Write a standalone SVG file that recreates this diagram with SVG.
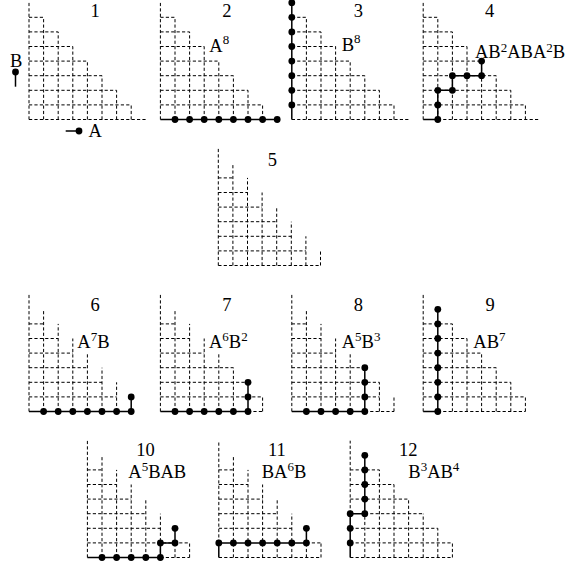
<svg xmlns="http://www.w3.org/2000/svg" xmlns:xlink="http://www.w3.org/1999/xlink" width="573" height="565" viewBox="0 0 573 565">
<defs>
<circle id="dot" r="3.4"/>
</defs>
<style>
.g{fill:none;stroke:#000;stroke-width:1;stroke-dasharray:3.2 2.2}
.p{fill:none;stroke:#000;stroke-width:1.5}
.dots use{fill:#000}
text{font-family:"Liberation Serif","Times New Roman",serif;font-size:18.5px;fill:#000}
.n{text-anchor:middle}
.s{font-size:13px}
</style>
<rect width="573" height="565" fill="#fff"/>

<!-- Panel 1 -->
<g id="panel1" transform="translate(29,119.5)">
<path class="g" d="M0 0V-116.8M0 0H116.8M0 -14.6H102.2M0 -29.2H87.6M0 -43.8H73M0 -58.4H58.4M0 -73H43.8M0 -87.6H29.2M0 -102.2H14.6M14.6 0V-102.2M29.2 0V-87.6M43.8 0V-73M58.4 0V-58.4M73 0V-43.8M87.6 0V-29.2M102.2 0V-14.6"/>
<text class="n" x="66" y="-102.5">1</text>
<g id="legend-B"><path class="p" d="M-13.5 -47.5V-32.8"/><use href="#dot" x="-13.5" y="-47.5"/><text x="-19" y="-52.5">B</text></g>
<g id="legend-A"><path class="p" d="M36.7 11.5H50"/><use href="#dot" x="50" y="11.5"/><text x="59.5" y="17.5">A</text></g>
</g>

<!-- Panel 2 -->
<g id="panel2" transform="translate(160.4,119.5)">
<path class="g" d="M0 0V-116.8M0 -14.6H102.2M0 -29.2H87.6M0 -43.8H73M0 -58.4H58.4M0 -73H43.8M0 -87.6H29.2M0 -102.2H14.6M14.6 0V-102.2M29.2 0V-87.6M43.8 0V-73M58.4 0V-58.4M73 0V-43.8M87.6 0V-29.2M102.2 0V-14.6"/>
<path class="p" d="M0 0H116.8"/>
<g class="dots"><use href="#dot" x="14.6" y="0"/><use href="#dot" x="29.2" y="0"/><use href="#dot" x="43.8" y="0"/><use href="#dot" x="58.4" y="0"/><use href="#dot" x="73" y="0"/><use href="#dot" x="87.6" y="0"/><use href="#dot" x="102.2" y="0"/><use href="#dot" x="116.8" y="0"/></g>
<text class="n" x="66.5" y="-102.5">2</text>
<text x="48.9" y="-67.5">A<tspan class="s" dy="-8">8</tspan></text>
</g>

<!-- Panel 3 -->
<g id="panel3" transform="translate(291.8,119.5)">
<path class="g" d="M0 0H116.8M0 -14.6H102.2M0 -29.2H87.6M0 -43.8H73M0 -58.4H58.4M0 -73H43.8M0 -87.6H29.2M0 -102.2H14.6M14.6 0V-102.2M29.2 0V-87.6M43.8 0V-73M58.4 0V-58.4M73 0V-43.8M87.6 0V-29.2M102.2 0V-14.6"/>
<path class="p" d="M0 0V-116.8"/>
<g class="dots"><use href="#dot" x="0" y="-14.6"/><use href="#dot" x="0" y="-29.2"/><use href="#dot" x="0" y="-43.8"/><use href="#dot" x="0" y="-58.4"/><use href="#dot" x="0" y="-73"/><use href="#dot" x="0" y="-87.6"/><use href="#dot" x="0" y="-102.2"/><use href="#dot" x="0" y="-116.8"/></g>
<text class="n" x="66.5" y="-102.5">3</text>
<text x="49.9" y="-68.8">B<tspan class="s" dy="-8">8</tspan></text>
</g>

<!-- Panel 4 -->
<g id="panel4" transform="translate(423.2,119.5)">
<path class="g" d="M0 0V-116.8M14.6 0H116.8M0 -14.6H102.2M0 -29.2H87.6M0 -43.8H73M0 -58.4H58.4M0 -73H43.8M0 -87.6H29.2M0 -102.2H14.6M14.6 0V-102.2M29.2 0V-87.6M43.8 0V-73M58.4 0V-58.4M73 0V-43.8M87.6 0V-29.2M102.2 0V-14.6"/>
<path class="p" d="M0 0H14.6V-29.2H29.2V-43.8H58.4V-58.4"/>
<g class="dots"><use href="#dot" x="14.6" y="0"/><use href="#dot" x="14.6" y="-14.6"/><use href="#dot" x="14.6" y="-29.2"/><use href="#dot" x="29.2" y="-29.2"/><use href="#dot" x="29.2" y="-43.8"/><use href="#dot" x="43.8" y="-43.8"/><use href="#dot" x="58.4" y="-43.8"/><use href="#dot" x="58.4" y="-58.4"/></g>
<text class="n" x="66.5" y="-102.5">4</text>
<text x="51.8" y="-61.2">AB<tspan class="s" dy="-6">2</tspan><tspan dy="6">ABA</tspan><tspan class="s" dy="-6">2</tspan><tspan dy="6">B</tspan></text>
</g>

<!-- Panel 5 -->
<g id="panel5" transform="translate(218.3,265.5)">
<path class="g" d="M0 0V-116.8M0 0H102.2M0 -14.6H87.6M0 -29.2H73M0 -43.8H58.4M0 -58.4H43.8M0 -73H29.2M0 -87.6H14.6M14.6 0V-102.2M29.2 0V-87.6M43.8 0V-73M58.4 0V-58.4M73 0V-43.8M87.6 0V-29.2M102.2 0V-14.6"/>
<text class="n" x="54.2" y="-99.8">5</text>
</g>

<!-- Panel 6 -->
<g id="panel6" transform="translate(29,411.5)">
<path class="g" d="M0 0V-116.8M0 -14.6H87.6M0 -29.2H73M0 -43.8H58.4M0 -58.4H43.8M0 -73H29.2M0 -87.6H14.6M14.6 0V-102.2M29.2 0V-87.6M43.8 0V-73M58.4 0V-58.4M73 0V-43.8M87.6 0V-29.2"/>
<path class="p" d="M0 0H102.2V-14.6"/>
<g class="dots"><use href="#dot" x="14.6" y="0"/><use href="#dot" x="29.2" y="0"/><use href="#dot" x="43.8" y="0"/><use href="#dot" x="58.4" y="0"/><use href="#dot" x="73" y="0"/><use href="#dot" x="87.6" y="0"/><use href="#dot" x="102.2" y="0"/><use href="#dot" x="102.2" y="-14.6"/></g>
<text class="n" x="66" y="-100.8">6</text>
<text x="48.3" y="-63.8">A<tspan class="s" dy="-7">7</tspan><tspan dy="7">B</tspan></text>
</g>

<!-- Panel 7 -->
<g id="panel7" transform="translate(160.4,411.5)">
<path class="g" d="M0 0V-116.8M87.6 0H102.2M0 -14.6H102.2M0 -29.2H87.6M0 -43.8H73M0 -58.4H43.8M0 -73H29.2M0 -87.6H14.6M14.6 0V-102.2M29.2 0V-87.6M43.8 0V-73M58.4 0V-58.4M73 0V-43.8M102.2 0V-14.6"/>
<path class="p" d="M0 0H87.6V-29.2"/>
<g class="dots"><use href="#dot" x="14.6" y="0"/><use href="#dot" x="29.2" y="0"/><use href="#dot" x="43.8" y="0"/><use href="#dot" x="58.4" y="0"/><use href="#dot" x="73" y="0"/><use href="#dot" x="87.6" y="0"/><use href="#dot" x="87.6" y="-14.6"/><use href="#dot" x="87.6" y="-29.2"/></g>
<text class="n" x="66.5" y="-100.8">7</text>
<text x="48.6" y="-63.8">A<tspan class="s" dy="-7">6</tspan><tspan dy="7">B</tspan><tspan class="s" dy="-7">2</tspan></text>
</g>

<!-- Panel 8 -->
<g id="panel8" transform="translate(291.8,411.5)">
<path class="g" d="M0 0V-116.8M73 0H102.2M0 -14.6H87.6M0 -29.2H87.6M0 -43.8H73M0 -58.4H43.8M0 -73H29.2M0 -87.6H14.6M14.6 0V-102.2M29.2 0V-87.6M43.8 0V-73M58.4 0V-58.4M87.6 0V-29.2M102.2 0V-14.6"/>
<path class="p" d="M0 0H73V-43.8"/>
<g class="dots"><use href="#dot" x="14.6" y="0"/><use href="#dot" x="29.2" y="0"/><use href="#dot" x="43.8" y="0"/><use href="#dot" x="58.4" y="0"/><use href="#dot" x="73" y="0"/><use href="#dot" x="73" y="-14.6"/><use href="#dot" x="73" y="-29.2"/><use href="#dot" x="73" y="-43.8"/></g>
<text class="n" x="66.5" y="-100.8">8</text>
<text x="49.9" y="-63.8">A<tspan class="s" dy="-7">5</tspan><tspan dy="7">B</tspan><tspan class="s" dy="-7">3</tspan></text>
</g>

<!-- Panel 9 -->
<g id="panel9" transform="translate(423.2,411.5)">
<path class="g" d="M0 0V-116.8M14.6 0H102.2M0 -14.6H102.2M0 -29.2H87.6M0 -43.8H73M0 -58.4H58.4M0 -73H43.8M0 -87.6H29.2M29.2 0V-87.6M43.8 0V-73M58.4 0V-58.4M73 0V-43.8M87.6 0V-29.2M102.2 0V-14.6"/>
<path class="p" d="M0 0H14.6V-102.2"/>
<g class="dots"><use href="#dot" x="14.6" y="0"/><use href="#dot" x="14.6" y="-14.6"/><use href="#dot" x="14.6" y="-29.2"/><use href="#dot" x="14.6" y="-43.8"/><use href="#dot" x="14.6" y="-58.4"/><use href="#dot" x="14.6" y="-73"/><use href="#dot" x="14.6" y="-87.6"/><use href="#dot" x="14.6" y="-102.2"/></g>
<text class="n" x="67" y="-100.8">9</text>
<text x="50.1" y="-63.8">AB<tspan class="s" dy="-7">7</tspan></text>
</g>

<!-- Panel 10 -->
<g id="panel10" transform="translate(87.4,557.5)">
<path class="g" d="M0 0V-116.8M73 0H102.2M0 -14.6H102.2M0 -29.2H73M0 -43.8H58.4M0 -58.4H43.8M0 -73H29.2M0 -87.6H14.6M14.6 0V-102.2M29.2 0V-87.6M43.8 0V-73M58.4 0V-58.4M73 0V-43.8M87.6 0V-14.6M102.2 0V-14.6"/>
<path class="p" d="M0 0H73V-14.6H87.6V-29.2"/>
<g class="dots"><use href="#dot" x="14.6" y="0"/><use href="#dot" x="29.2" y="0"/><use href="#dot" x="43.8" y="0"/><use href="#dot" x="58.4" y="0"/><use href="#dot" x="73" y="0"/><use href="#dot" x="73" y="-14.6"/><use href="#dot" x="87.6" y="-14.6"/><use href="#dot" x="87.6" y="-29.2"/></g>
<text class="n" x="58" y="-101.5">10</text>
<text x="40.9" y="-79.2">A<tspan class="s" dy="-7">5</tspan><tspan dy="7">BAB</tspan></text>
</g>

<!-- Panel 11 -->
<g id="panel11" transform="translate(218.8,557.5)">
<path class="g" d="M0 -14.6V-116.8M0 0H102.2M87.6 -14.6H102.2M0 -29.2H73M0 -43.8H58.4M0 -58.4H43.8M0 -73H29.2M0 -87.6H14.6M14.6 0V-102.2M29.2 0V-87.6M43.8 0V-73M58.4 0V-58.4M73 0V-43.8M87.6 0V-14.6M102.2 0V-14.6"/>
<path class="p" d="M0 0V-14.6H87.6V-29.2"/>
<g class="dots"><use href="#dot" x="0" y="-14.6"/><use href="#dot" x="14.6" y="-14.6"/><use href="#dot" x="29.2" y="-14.6"/><use href="#dot" x="43.8" y="-14.6"/><use href="#dot" x="58.4" y="-14.6"/><use href="#dot" x="73" y="-14.6"/><use href="#dot" x="87.6" y="-14.6"/><use href="#dot" x="87.6" y="-29.2"/></g>
<text class="n" x="58" y="-101.5">11</text>
<text x="42.9" y="-79.2">BA<tspan class="s" dy="-7">6</tspan><tspan dy="7">B</tspan></text>
</g>

<!-- Panel 12 -->
<g id="panel12" transform="translate(350.2,557.5)">
<path class="g" d="M0 -43.8V-116.8M0 0H102.2M0 -14.6H102.2M0 -29.2H87.6M14.6 -43.8H73M0 -58.4H58.4M0 -73H43.8M0 -87.6H29.2M14.6 0V-43.8M29.2 0V-87.6M43.8 0V-73M58.4 0V-58.4M73 0V-43.8M87.6 0V-29.2M102.2 0V-14.6"/>
<path class="p" d="M0 0V-43.8H14.6V-102.2"/>
<g class="dots"><use href="#dot" x="0" y="-14.6"/><use href="#dot" x="0" y="-29.2"/><use href="#dot" x="0" y="-43.8"/><use href="#dot" x="14.6" y="-43.8"/><use href="#dot" x="14.6" y="-58.4"/><use href="#dot" x="14.6" y="-73"/><use href="#dot" x="14.6" y="-87.6"/><use href="#dot" x="14.6" y="-102.2"/></g>
<text class="n" x="58" y="-101.5">12</text>
<text x="58.1" y="-79.2">B<tspan class="s" dy="-7">3</tspan><tspan dy="7">AB</tspan><tspan class="s" dy="-7">4</tspan></text>
</g>
</svg>
